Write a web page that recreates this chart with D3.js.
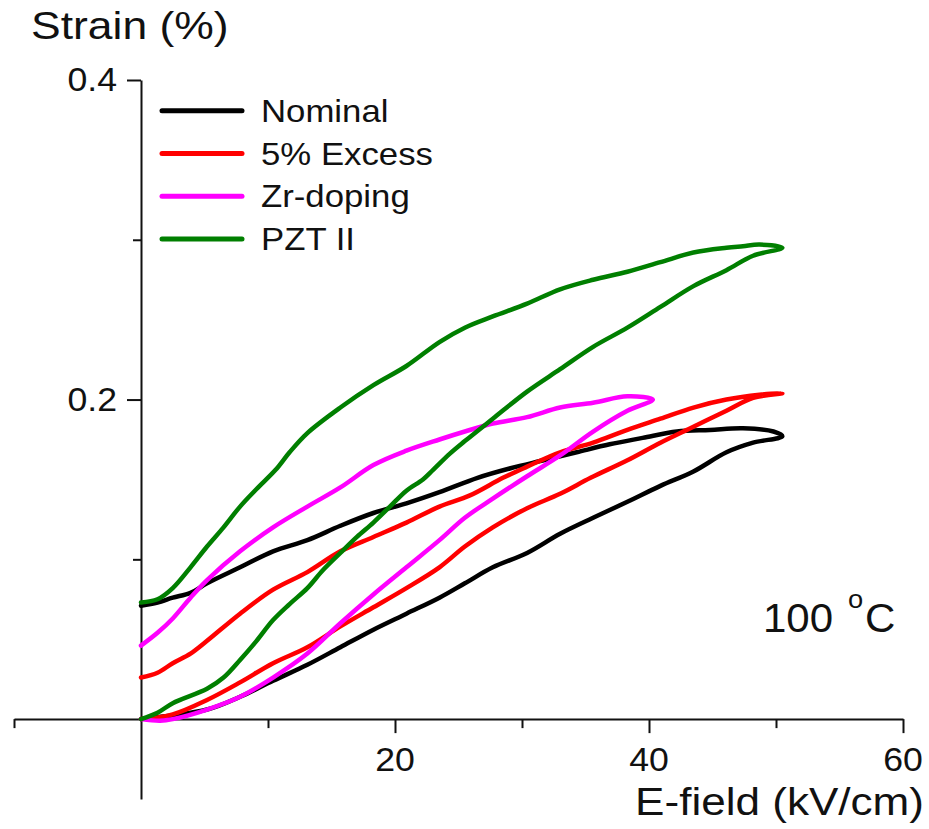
<!DOCTYPE html>
<html>
<head>
<meta charset="utf-8">
<script src="https://cdn.jsdelivr.net/npm/d3@7"></script>
<style>
  html, body { margin: 0; padding: 0; background: #fff; }
  svg { display: block; }
  text { font-family: "Liberation Sans", Arial, sans-serif; fill: #111; }
</style>
</head>
<body>
<svg width="929" height="829"></svg>
<script>
const width = 929, height = 829;

// series: [E-field (kV/cm), strain (%)]
// each loop: rising branch from origin to max field, then falling branch back to 0
const nominal = [
  [0, 0], [5.2, 0.006], [7.8, 0.014], [10.4, 0.024], [13.1, 0.034], [15.7, 0.045],
  [18.3, 0.056], [20.9, 0.066], [23.5, 0.076], [25.5, 0.085], [27.7, 0.095], [30.4, 0.104],
  [33.0, 0.116], [35.6, 0.126], [38.3, 0.136], [40.9, 0.146], [43.5, 0.155], [46.1, 0.167],
  [48.2, 0.173], [50.5, 0.177],
  [49.8, 0.180], [47.4, 0.182], [44.8, 0.181], [42.2, 0.180], [39.5, 0.176], [36.9, 0.172],
  [34.3, 0.167], [31.7, 0.162], [29.1, 0.157], [26.5, 0.151], [23.5, 0.142], [20.9, 0.135],
  [18.3, 0.129], [15.7, 0.121], [13.1, 0.112], [10.4, 0.105], [7.8, 0.095], [5.2, 0.085],
  [3.9, 0.079], [2.5, 0.076], [1.3, 0.073], [0, 0.071]
];

const excess = [
  [0, 0], [2.5, 0.003], [5.2, 0.012], [7.8, 0.023], [10.4, 0.035], [13.1, 0.045],
  [15.7, 0.058], [18.3, 0.070], [20.9, 0.082], [23.5, 0.095], [25.5, 0.108], [27.7, 0.120],
  [30.4, 0.132], [33.0, 0.141], [35.4, 0.151], [38.3, 0.162], [40.9, 0.173], [43.5, 0.183],
  [46.1, 0.193], [48.2, 0.201], [50.5, 0.204],
  [48.7, 0.203], [46.1, 0.200], [43.5, 0.195], [40.9, 0.188], [38.3, 0.181], [35.6, 0.173],
  [33.0, 0.167], [30.4, 0.158], [28.5, 0.151], [25.9, 0.140], [23.5, 0.133], [20.9, 0.123],
  [18.3, 0.114], [15.7, 0.105], [13.1, 0.092], [10.4, 0.081], [7.8, 0.066], [5.2, 0.049],
  [3.9, 0.041], [2.5, 0.035], [1.3, 0.029], [0, 0.026]
];

const zrDoping = [
  [0, 0], [1.5, -0.001], [2.5, 0.000], [5.2, 0.006], [7.8, 0.014], [10.4, 0.026],
  [13.1, 0.041], [15.7, 0.060], [18.3, 0.078], [20.9, 0.095], [23.5, 0.112], [25.5, 0.126],
  [27.7, 0.138], [30.4, 0.152], [33.0, 0.165], [35.6, 0.180], [38.3, 0.193], [40.3, 0.200],
  [38.3, 0.202], [35.6, 0.198], [33.0, 0.195], [30.4, 0.189], [27.7, 0.185], [25.5, 0.180],
  [23.5, 0.175], [20.9, 0.168], [18.3, 0.159], [15.7, 0.145], [13.1, 0.133], [10.4, 0.120],
  [7.8, 0.105], [5.2, 0.087], [3.9, 0.076], [2.5, 0.063], [1.3, 0.054], [0, 0.046]
];

const pztII = [
  [0, 0], [1.3, 0.004], [2.5, 0.010], [5.2, 0.019], [6.5, 0.026], [7.8, 0.037],
  [9.1, 0.049], [10.4, 0.062], [11.7, 0.072], [13.1, 0.082], [14.3, 0.093], [15.7, 0.104],
  [17.0, 0.114], [18.3, 0.123], [19.6, 0.133], [20.9, 0.143], [22.2, 0.150], [23.0, 0.156],
  [24.3, 0.166], [25.5, 0.174], [27.7, 0.188], [30.4, 0.205], [33.0, 0.219], [35.6, 0.233],
  [38.3, 0.245], [40.9, 0.258], [43.5, 0.271], [46.1, 0.281], [48.2, 0.290], [50.5, 0.295],
  [48.7, 0.297], [47.4, 0.296], [46.1, 0.295], [43.5, 0.292], [40.9, 0.286], [38.3, 0.280],
  [35.6, 0.275], [33.0, 0.269], [30.4, 0.260], [27.7, 0.252], [25.5, 0.245], [23.5, 0.236],
  [20.9, 0.221], [18.3, 0.209], [15.7, 0.195], [13.1, 0.179], [11.7, 0.167], [10.6, 0.156],
  [9.1, 0.144], [7.8, 0.133], [6.5, 0.120], [5.2, 0.108], [3.9, 0.095], [2.5, 0.082],
  [1.3, 0.075], [0, 0.073]
];

const seriesNames = ["Nominal", "5% Excess", "Zr-doping", "PZT II"];
const seriesColors = ["#000000", "#ff0000", "#ff00ff", "#007f00"];
const seriesData = [nominal, excess, zrDoping, pztII];

const xMajorTicks = [20, 40, 60];
const xMinorTicks = [-10, 10, 30, 50];
const yMajorTicks = [0.2, 0.4];
const yMinorTicks = [0.1, 0.3];

const svg = d3.select("svg");

const x = d3.scaleLinear().domain([-10, 60]).range([14, 903]);
const y = d3.scaleLinear().domain([-0.05, 0.4]).range([799, 80]);

// stretched text helper (the source lettering is a bit wider than Arial)
function label(str, px, py, size, anchor, sx) {
  return svg.append("text")
    .attr("transform", `translate(${px},${py}) scale(${sx},1)`)
    .attr("text-anchor", anchor)
    .style("font-size", `${size}px`)
    .text(str);
}

// X axis
const gx = svg.append("g").attr("transform", `translate(0,${y(0)})`);
gx.call(d3.axisBottom(x).tickValues(xMajorTicks).tickSize(14).tickSizeOuter(0).tickFormat(""));
gx.append("g").call(d3.axisBottom(x).tickValues(xMinorTicks).tickSize(9).tickSizeOuter(0).tickFormat(""))
  .select(".domain").remove();

// Y axis
const gy = svg.append("g").attr("transform", `translate(${x(0)},0)`);
gy.call(d3.axisLeft(y).tickValues(yMajorTicks).tickSize(14).tickSizeOuter(0).tickFormat(""));
gy.append("g").call(d3.axisLeft(y).tickValues(yMinorTicks).tickSize(8).tickSizeOuter(0).tickFormat(""))
  .select(".domain").remove();

svg.selectAll(".domain, .tick line")
  .attr("stroke", "#111")
  .attr("stroke-width", 2);

// tick labels
xMajorTicks.forEach(d => label(d, x(d), y(0) + 52, 33, "middle", 1.08));
yMajorTicks.forEach(d => label(d3.format(".1f")(d), 117, y(d) + 11, 33, "end", 1.08));

// axis titles
label("Strain (%)", 31, 39, 38, "start", 1.17);
label("E-field (kV/cm)", 924, 815, 38, "end", 1.16);

// curves
const line = d3.line()
  .x(d => x(d[0]))
  .y(d => y(d[1]))
  .curve(d3.curveCatmullRom.alpha(0.5));

svg.append("g")
  .selectAll("path")
  .data(seriesData)
  .join("path")
    .attr("d", d => line(d))
    .attr("fill", "none")
    .attr("stroke", (d, i) => seriesColors[i])
    .attr("stroke-width", 4.5)
    .attr("stroke-linejoin", "round")
    .attr("stroke-linecap", "round");

// legend
const legend = svg.append("g");
seriesNames.forEach((name, i) => {
  const ly = 110.7 + i * 42.8;
  legend.append("line")
    .attr("x1", 162).attr("x2", 242)
    .attr("y1", ly).attr("y2", ly)
    .attr("stroke", seriesColors[i])
    .attr("stroke-width", 5)
    .attr("stroke-linecap", "round");
  label(name, 261, ly + 11, 30.5, "start", 1.14);
});

// temperature note
label("100", 763, 632, 40, "start", 1.05);
label("o", 848, 608, 26, "start", 1.05);
label("C", 865, 632, 40, "start", 1.05);
</script>
</body>
</html>
